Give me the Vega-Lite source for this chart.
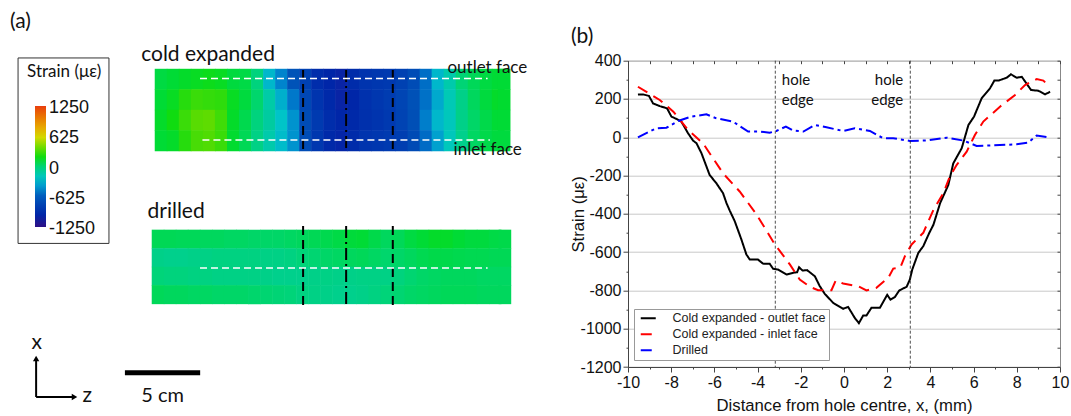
{
"$schema":"https://vega.github.io/schema/vega-lite/v6.json",
"padding":0,"background":"white","bounds":"flush","spacing":68,
"config":{"view":{"stroke":null},"font":"Liberation Sans"},
"datasets":{
"cold":[
{"z":-12.3,"y":8.57,"s":120},{"z":-12.3,"y":7.17,"s":150},{"z":-12.3,"y":5.76,"s":170},{"z":-12.3,"y":4.36,"s":150},
{"z":-11.5,"y":8.57,"s":150},{"z":-11.5,"y":7.17,"s":180},{"z":-11.5,"y":5.76,"s":200},{"z":-11.5,"y":4.36,"s":170},
{"z":-10.7,"y":8.57,"s":170},{"z":-10.7,"y":7.17,"s":220},{"z":-10.7,"y":5.76,"s":250},{"z":-10.7,"y":4.36,"s":220},
{"z":-9.9,"y":8.57,"s":180},{"z":-9.9,"y":7.17,"s":250},{"z":-9.9,"y":5.76,"s":320},{"z":-9.9,"y":4.36,"s":280},
{"z":-9.1,"y":8.57,"s":190},{"z":-9.1,"y":7.17,"s":240},{"z":-9.1,"y":5.76,"s":340},{"z":-9.1,"y":4.36,"s":300},
{"z":-8.3,"y":8.57,"s":180},{"z":-8.3,"y":7.17,"s":230},{"z":-8.3,"y":5.76,"s":260},{"z":-8.3,"y":4.36,"s":250},
{"z":-7.5,"y":8.57,"s":130},{"z":-7.5,"y":7.17,"s":180},{"z":-7.5,"y":5.76,"s":170},{"z":-7.5,"y":4.36,"s":160},
{"z":-6.7,"y":8.57,"s":110},{"z":-6.7,"y":7.17,"s":130},{"z":-6.7,"y":5.76,"s":90},{"z":-6.7,"y":4.36,"s":70},
{"z":-5.9,"y":8.57,"s":-20},{"z":-5.9,"y":7.17,"s":20},{"z":-5.9,"y":5.76,"s":-20},{"z":-5.9,"y":4.36,"s":-40},
{"z":-5.1,"y":8.57,"s":-300},{"z":-5.1,"y":7.17,"s":-140},{"z":-5.1,"y":5.76,"s":-120},{"z":-5.1,"y":4.36,"s":-150},
{"z":-4.3,"y":8.57,"s":-480},{"z":-4.3,"y":7.17,"s":-330},{"z":-4.3,"y":5.76,"s":-250},{"z":-4.3,"y":4.36,"s":-280},
{"z":-3.5,"y":8.57,"s":-640},{"z":-3.5,"y":7.17,"s":-520},{"z":-3.5,"y":5.76,"s":-430},{"z":-3.5,"y":4.36,"s":-430},
{"z":-2.7,"y":8.57,"s":-800},{"z":-2.7,"y":7.17,"s":-750},{"z":-2.7,"y":5.76,"s":-700},{"z":-2.7,"y":4.36,"s":-700},
{"z":-1.9,"y":8.57,"s":-950},{"z":-1.9,"y":7.17,"s":-900},{"z":-1.9,"y":5.76,"s":-850},{"z":-1.9,"y":4.36,"s":-880},
{"z":-1.1,"y":8.57,"s":-1000},{"z":-1.1,"y":7.17,"s":-980},{"z":-1.1,"y":5.76,"s":-950},{"z":-1.1,"y":4.36,"s":-980},
{"z":-0.3,"y":8.57,"s":-1020},{"z":-0.3,"y":7.17,"s":-1020},{"z":-0.3,"y":5.76,"s":-1000},{"z":-0.3,"y":4.36,"s":-1010},
{"z":0.5,"y":8.57,"s":-960},{"z":0.5,"y":7.17,"s":-1000},{"z":0.5,"y":5.76,"s":-980},{"z":0.5,"y":4.36,"s":-960},
{"z":1.3,"y":8.57,"s":-900},{"z":1.3,"y":7.17,"s":-920},{"z":1.3,"y":5.76,"s":-930},{"z":1.3,"y":4.36,"s":-900},
{"z":2.1,"y":8.57,"s":-880},{"z":2.1,"y":7.17,"s":-880},{"z":2.1,"y":5.76,"s":-900},{"z":2.1,"y":4.36,"s":-880},
{"z":2.9,"y":8.57,"s":-860},{"z":2.9,"y":7.17,"s":-840},{"z":2.9,"y":5.76,"s":-860},{"z":2.9,"y":4.36,"s":-850},
{"z":3.7,"y":8.57,"s":-800},{"z":3.7,"y":7.17,"s":-760},{"z":3.7,"y":5.76,"s":-780},{"z":3.7,"y":4.36,"s":-820},
{"z":4.5,"y":8.57,"s":-700},{"z":4.5,"y":7.17,"s":-660},{"z":4.5,"y":5.76,"s":-680},{"z":4.5,"y":4.36,"s":-720},
{"z":5.3,"y":8.57,"s":-550},{"z":5.3,"y":7.17,"s":-540},{"z":5.3,"y":5.76,"s":-500},{"z":5.3,"y":4.36,"s":-560},
{"z":6.1,"y":8.57,"s":-300},{"z":6.1,"y":7.17,"s":-350},{"z":6.1,"y":5.76,"s":-300},{"z":6.1,"y":4.36,"s":-380},
{"z":6.9,"y":8.57,"s":-150},{"z":6.9,"y":7.17,"s":-180},{"z":6.9,"y":5.76,"s":-200},{"z":6.9,"y":4.36,"s":-200},
{"z":7.7,"y":8.57,"s":0},{"z":7.7,"y":7.17,"s":-50},{"z":7.7,"y":5.76,"s":-50},{"z":7.7,"y":4.36,"s":-60},
{"z":8.5,"y":8.57,"s":60},{"z":8.5,"y":7.17,"s":50},{"z":8.5,"y":5.76,"s":30},{"z":8.5,"y":4.36,"s":40},
{"z":9.3,"y":8.57,"s":120},{"z":9.3,"y":7.17,"s":130},{"z":9.3,"y":5.76,"s":100},{"z":9.3,"y":4.36,"s":100},
{"z":10.1,"y":8.57,"s":150},{"z":10.1,"y":7.17,"s":170},{"z":10.1,"y":5.76,"s":150},{"z":10.1,"y":4.36,"s":130},
{"z":10.5,"y":8.57,"s":150},{"z":10.5,"y":7.17,"s":160},{"z":10.5,"y":5.76,"s":150},{"z":10.5,"y":4.36,"s":130}
],
"drilled":[
{"z":-12.5,"y":-2.38,"s":70},{"z":-12.5,"y":-3.65,"s":-50},{"z":-12.5,"y":-4.92,"s":-10},{"z":-12.5,"y":-6.18,"s":60},
{"z":-11.7,"y":-2.38,"s":70},{"z":-11.7,"y":-3.65,"s":-60},{"z":-11.7,"y":-4.92,"s":-20},{"z":-11.7,"y":-6.18,"s":50},
{"z":-10.9,"y":-2.38,"s":60},{"z":-10.9,"y":-3.65,"s":-60},{"z":-10.9,"y":-4.92,"s":-20},{"z":-10.9,"y":-6.18,"s":50},
{"z":-10.1,"y":-2.38,"s":60},{"z":-10.1,"y":-3.65,"s":-50},{"z":-10.1,"y":-4.92,"s":-30},{"z":-10.1,"y":-6.18,"s":40},
{"z":-9.3,"y":-2.38,"s":50},{"z":-9.3,"y":-3.65,"s":-40},{"z":-9.3,"y":-4.92,"s":-30},{"z":-9.3,"y":-6.18,"s":40},
{"z":-8.5,"y":-2.38,"s":50},{"z":-8.5,"y":-3.65,"s":-30},{"z":-8.5,"y":-4.92,"s":-40},{"z":-8.5,"y":-6.18,"s":30},
{"z":-7.7,"y":-2.38,"s":40},{"z":-7.7,"y":-3.65,"s":-30},{"z":-7.7,"y":-4.92,"s":-40},{"z":-7.7,"y":-6.18,"s":30},
{"z":-6.9,"y":-2.38,"s":40},{"z":-6.9,"y":-3.65,"s":-30},{"z":-6.9,"y":-4.92,"s":-40},{"z":-6.9,"y":-6.18,"s":30},
{"z":-6.1,"y":-2.38,"s":30},{"z":-6.1,"y":-3.65,"s":-30},{"z":-6.1,"y":-4.92,"s":-40},{"z":-6.1,"y":-6.18,"s":20},
{"z":-5.3,"y":-2.38,"s":30},{"z":-5.3,"y":-3.65,"s":-40},{"z":-5.3,"y":-4.92,"s":-50},{"z":-5.3,"y":-6.18,"s":10},
{"z":-4.5,"y":-2.38,"s":30},{"z":-4.5,"y":-3.65,"s":-40},{"z":-4.5,"y":-4.92,"s":-60},{"z":-4.5,"y":-6.18,"s":0},
{"z":-3.7,"y":-2.38,"s":40},{"z":-3.7,"y":-3.65,"s":-30},{"z":-3.7,"y":-4.92,"s":-60},{"z":-3.7,"y":-6.18,"s":-10},
{"z":-2.9,"y":-2.38,"s":50},{"z":-2.9,"y":-3.65,"s":-10},{"z":-2.9,"y":-4.92,"s":-60},{"z":-2.9,"y":-6.18,"s":-30},
{"z":-2.1,"y":-2.38,"s":70},{"z":-2.1,"y":-3.65,"s":10},{"z":-2.1,"y":-4.92,"s":-50},{"z":-2.1,"y":-6.18,"s":-40},
{"z":-1.3,"y":-2.38,"s":90},{"z":-1.3,"y":-3.65,"s":30},{"z":-1.3,"y":-4.92,"s":-40},{"z":-1.3,"y":-6.18,"s":-50},
{"z":-0.5,"y":-2.38,"s":110},{"z":-0.5,"y":-3.65,"s":40},{"z":-0.5,"y":-4.92,"s":-50},{"z":-0.5,"y":-6.18,"s":-60},
{"z":0.3,"y":-2.38,"s":140},{"z":0.3,"y":-3.65,"s":50},{"z":0.3,"y":-4.92,"s":-50},{"z":0.3,"y":-6.18,"s":-60},
{"z":1.1,"y":-2.38,"s":150},{"z":1.1,"y":-3.65,"s":60},{"z":1.1,"y":-4.92,"s":-40},{"z":1.1,"y":-6.18,"s":-50},
{"z":1.9,"y":-2.38,"s":100},{"z":1.9,"y":-3.65,"s":40},{"z":1.9,"y":-4.92,"s":-40},{"z":1.9,"y":-6.18,"s":-30},
{"z":2.7,"y":-2.38,"s":50},{"z":2.7,"y":-3.65,"s":20},{"z":2.7,"y":-4.92,"s":-40},{"z":2.7,"y":-6.18,"s":-10},
{"z":3.5,"y":-2.38,"s":60},{"z":3.5,"y":-3.65,"s":30},{"z":3.5,"y":-4.92,"s":-20},{"z":3.5,"y":-6.18,"s":10},
{"z":4.3,"y":-2.38,"s":120},{"z":4.3,"y":-3.65,"s":50},{"z":4.3,"y":-4.92,"s":10},{"z":4.3,"y":-6.18,"s":30},
{"z":5.1,"y":-2.38,"s":150},{"z":5.1,"y":-3.65,"s":80},{"z":5.1,"y":-4.92,"s":30},{"z":5.1,"y":-6.18,"s":40},
{"z":5.9,"y":-2.38,"s":170},{"z":5.9,"y":-3.65,"s":100},{"z":5.9,"y":-4.92,"s":40},{"z":5.9,"y":-6.18,"s":50},
{"z":6.7,"y":-2.38,"s":170},{"z":6.7,"y":-3.65,"s":100},{"z":6.7,"y":-4.92,"s":50},{"z":6.7,"y":-6.18,"s":60},
{"z":7.5,"y":-2.38,"s":150},{"z":7.5,"y":-3.65,"s":90},{"z":7.5,"y":-4.92,"s":50},{"z":7.5,"y":-6.18,"s":60},
{"z":8.3,"y":-2.38,"s":130},{"z":8.3,"y":-3.65,"s":80},{"z":8.3,"y":-4.92,"s":50},{"z":8.3,"y":-6.18,"s":60},
{"z":9.1,"y":-2.38,"s":130},{"z":9.1,"y":-3.65,"s":80},{"z":9.1,"y":-4.92,"s":40},{"z":9.1,"y":-6.18,"s":50},
{"z":9.9,"y":-2.38,"s":110},{"z":9.9,"y":-3.65,"s":70},{"z":9.9,"y":-4.92,"s":40},{"z":9.9,"y":-6.18,"s":50},
{"z":10.55,"y":-2.38,"s":100},{"z":10.55,"y":-3.65,"s":70},{"z":10.55,"y":-4.92,"s":40},{"z":10.55,"y":-6.18,"s":50}
],
"lines":[
{"d":-9.54,"v":223,"k":"Cold expanded - outlet face"},{"d":-9.3,"v":224,"k":"Cold expanded - outlet face"},{"d":-9.03,"v":216,"k":"Cold expanded - outlet face"},{"d":-8.84,"v":177,"k":"Cold expanded - outlet face"},{"d":-8.53,"v":163,"k":"Cold expanded - outlet face"},{"d":-8.19,"v":151,"k":"Cold expanded - outlet face"},{"d":-7.99,"v":108,"k":"Cold expanded - outlet face"},{"d":-7.76,"v":96,"k":"Cold expanded - outlet face"},{"d":-7.53,"v":82,"k":"Cold expanded - outlet face"},{"d":-7.22,"v":21,"k":"Cold expanded - outlet face"},{"d":-6.99,"v":-17,"k":"Cold expanded - outlet face"},{"d":-6.83,"v":-31,"k":"Cold expanded - outlet face"},{"d":-6.6,"v":-83,"k":"Cold expanded - outlet face"},{"d":-6.22,"v":-197,"k":"Cold expanded - outlet face"},{"d":-5.91,"v":-240,"k":"Cold expanded - outlet face"},{"d":-5.6,"v":-292,"k":"Cold expanded - outlet face"},{"d":-5.44,"v":-344,"k":"Cold expanded - outlet face"},{"d":-5.29,"v":-383,"k":"Cold expanded - outlet face"},{"d":-5.06,"v":-438,"k":"Cold expanded - outlet face"},{"d":-4.75,"v":-534,"k":"Cold expanded - outlet face"},{"d":-4.52,"v":-612,"k":"Cold expanded - outlet face"},{"d":-4.36,"v":-639,"k":"Cold expanded - outlet face"},{"d":-3.98,"v":-639,"k":"Cold expanded - outlet face"},{"d":-3.75,"v":-660,"k":"Cold expanded - outlet face"},{"d":-3.44,"v":-661,"k":"Cold expanded - outlet face"},{"d":-3.28,"v":-687,"k":"Cold expanded - outlet face"},{"d":-3.05,"v":-691,"k":"Cold expanded - outlet face"},{"d":-2.66,"v":-717,"k":"Cold expanded - outlet face"},{"d":-2.35,"v":-708,"k":"Cold expanded - outlet face"},{"d":-2.17,"v":-705,"k":"Cold expanded - outlet face"},{"d":-2.08,"v":-679,"k":"Cold expanded - outlet face"},{"d":-1.92,"v":-696,"k":"Cold expanded - outlet face"},{"d":-1.71,"v":-694,"k":"Cold expanded - outlet face"},{"d":-1.35,"v":-726,"k":"Cold expanded - outlet face"},{"d":-1.12,"v":-778,"k":"Cold expanded - outlet face"},{"d":-0.89,"v":-818,"k":"Cold expanded - outlet face"},{"d":-0.5,"v":-865,"k":"Cold expanded - outlet face"},{"d":-0.04,"v":-896,"k":"Cold expanded - outlet face"},{"d":0.19,"v":-886,"k":"Cold expanded - outlet face"},{"d":0.5,"v":-944,"k":"Cold expanded - outlet face"},{"d":0.69,"v":-971,"k":"Cold expanded - outlet face"},{"d":0.89,"v":-931,"k":"Cold expanded - outlet face"},{"d":1.04,"v":-931,"k":"Cold expanded - outlet face"},{"d":1.27,"v":-891,"k":"Cold expanded - outlet face"},{"d":1.66,"v":-891,"k":"Cold expanded - outlet face"},{"d":2.0,"v":-823,"k":"Cold expanded - outlet face"},{"d":2.15,"v":-848,"k":"Cold expanded - outlet face"},{"d":2.36,"v":-834,"k":"Cold expanded - outlet face"},{"d":2.56,"v":-800,"k":"Cold expanded - outlet face"},{"d":2.9,"v":-781,"k":"Cold expanded - outlet face"},{"d":3.05,"v":-743,"k":"Cold expanded - outlet face"},{"d":3.16,"v":-691,"k":"Cold expanded - outlet face"},{"d":3.44,"v":-604,"k":"Cold expanded - outlet face"},{"d":3.67,"v":-569,"k":"Cold expanded - outlet face"},{"d":3.95,"v":-499,"k":"Cold expanded - outlet face"},{"d":4.14,"v":-457,"k":"Cold expanded - outlet face"},{"d":4.45,"v":-344,"k":"Cold expanded - outlet face"},{"d":4.83,"v":-249,"k":"Cold expanded - outlet face"},{"d":5.06,"v":-136,"k":"Cold expanded - outlet face"},{"d":5.45,"v":-57,"k":"Cold expanded - outlet face"},{"d":5.76,"v":64,"k":"Cold expanded - outlet face"},{"d":6.02,"v":108,"k":"Cold expanded - outlet face"},{"d":6.37,"v":203,"k":"Cold expanded - outlet face"},{"d":6.76,"v":256,"k":"Cold expanded - outlet face"},{"d":6.96,"v":296,"k":"Cold expanded - outlet face"},{"d":7.15,"v":296,"k":"Cold expanded - outlet face"},{"d":7.53,"v":311,"k":"Cold expanded - outlet face"},{"d":7.73,"v":329,"k":"Cold expanded - outlet face"},{"d":8.0,"v":311,"k":"Cold expanded - outlet face"},{"d":8.23,"v":316,"k":"Cold expanded - outlet face"},{"d":8.66,"v":247,"k":"Cold expanded - outlet face"},{"d":9.0,"v":243,"k":"Cold expanded - outlet face"},{"d":9.31,"v":224,"k":"Cold expanded - outlet face"},{"d":9.54,"v":238,"k":"Cold expanded - outlet face"},
{"d":-9.54,"v":264,"k":"Cold expanded - inlet face"},{"d":-8.53,"v":195,"k":"Cold expanded - inlet face"},{"d":-7.9,"v":134,"k":"Cold expanded - inlet face"},{"d":-7.22,"v":38,"k":"Cold expanded - inlet face"},{"d":-6.53,"v":-31,"k":"Cold expanded - inlet face"},{"d":-5.6,"v":-188,"k":"Cold expanded - inlet face"},{"d":-4.83,"v":-283,"k":"Cold expanded - inlet face"},{"d":-4.05,"v":-403,"k":"Cold expanded - inlet face"},{"d":-3.2,"v":-560,"k":"Cold expanded - inlet face"},{"d":-2.5,"v":-665,"k":"Cold expanded - inlet face"},{"d":-2.05,"v":-743,"k":"Cold expanded - inlet face"},{"d":-1.58,"v":-781,"k":"Cold expanded - inlet face"},{"d":-1.2,"v":-799,"k":"Cold expanded - inlet face"},{"d":-0.58,"v":-799,"k":"Cold expanded - inlet face"},{"d":-0.38,"v":-748,"k":"Cold expanded - inlet face"},{"d":-0.04,"v":-764,"k":"Cold expanded - inlet face"},{"d":0.66,"v":-778,"k":"Cold expanded - inlet face"},{"d":1.04,"v":-800,"k":"Cold expanded - inlet face"},{"d":1.5,"v":-786,"k":"Cold expanded - inlet face"},{"d":2.05,"v":-734,"k":"Cold expanded - inlet face"},{"d":2.28,"v":-686,"k":"Cold expanded - inlet face"},{"d":2.6,"v":-682,"k":"Cold expanded - inlet face"},{"d":2.82,"v":-621,"k":"Cold expanded - inlet face"},{"d":3.13,"v":-560,"k":"Cold expanded - inlet face"},{"d":3.67,"v":-499,"k":"Cold expanded - inlet face"},{"d":4.14,"v":-379,"k":"Cold expanded - inlet face"},{"d":4.6,"v":-292,"k":"Cold expanded - inlet face"},{"d":4.9,"v":-205,"k":"Cold expanded - inlet face"},{"d":5.22,"v":-144,"k":"Cold expanded - inlet face"},{"d":5.68,"v":-75,"k":"Cold expanded - inlet face"},{"d":6.06,"v":12,"k":"Cold expanded - inlet face"},{"d":6.45,"v":82,"k":"Cold expanded - inlet face"},{"d":7.22,"v":160,"k":"Cold expanded - inlet face"},{"d":7.92,"v":221,"k":"Cold expanded - inlet face"},{"d":8.38,"v":273,"k":"Cold expanded - inlet face"},{"d":8.92,"v":304,"k":"Cold expanded - inlet face"},{"d":9.23,"v":296,"k":"Cold expanded - inlet face"},{"d":9.54,"v":261,"k":"Cold expanded - inlet face"},
{"d":-9.54,"v":0,"k":"Drilled"},{"d":-8.69,"v":47,"k":"Drilled"},{"d":-8.22,"v":50,"k":"Drilled"},{"d":-7.68,"v":85,"k":"Drilled"},{"d":-7.07,"v":108,"k":"Drilled"},{"d":-6.37,"v":120,"k":"Drilled"},{"d":-5.91,"v":99,"k":"Drilled"},{"d":-5.14,"v":82,"k":"Drilled"},{"d":-4.44,"v":30,"k":"Drilled"},{"d":-3.9,"v":30,"k":"Drilled"},{"d":-3.44,"v":24,"k":"Drilled"},{"d":-3.13,"v":33,"k":"Drilled"},{"d":-2.69,"v":56,"k":"Drilled"},{"d":-2.35,"v":35,"k":"Drilled"},{"d":-1.88,"v":30,"k":"Drilled"},{"d":-1.35,"v":64,"k":"Drilled"},{"d":-0.81,"v":52,"k":"Drilled"},{"d":-0.04,"v":33,"k":"Drilled"},{"d":0.5,"v":47,"k":"Drilled"},{"d":1.2,"v":33,"k":"Drilled"},{"d":1.81,"v":-5,"k":"Drilled"},{"d":2.28,"v":-5,"k":"Drilled"},{"d":3.05,"v":-19,"k":"Drilled"},{"d":3.82,"v":-17,"k":"Drilled"},{"d":4.75,"v":-2,"k":"Drilled"},{"d":5.52,"v":-17,"k":"Drilled"},{"d":6.14,"v":-45,"k":"Drilled"},{"d":6.91,"v":-42,"k":"Drilled"},{"d":7.99,"v":-37,"k":"Drilled"},{"d":8.53,"v":-28,"k":"Drilled"},{"d":8.92,"v":9,"k":"Drilled"},{"d":9.46,"v":0,"k":"Drilled"}
]
},
"hconcat":[
{
"width":560,"height":416,
"encoding":{
"x":{"field":"z","type":"quantitative","axis":null,"scale":{"domain":[-23,14.21],"nice":false,"zero":false}},
"y":{"field":"y","type":"quantitative","axis":null,"scale":{"domain":[-14.49,14],"nice":false,"zero":false}}
},
"layer":[
{"data":{"values":[{"z":-21.8,"z2":-15.76,"y":10.03,"y2":-2.67}]},"mark":{"type":"rect","fill":"white","stroke":"#333333","strokeWidth":1},"encoding":{"x2":{"field":"z2"},"y2":{"field":"y2"}}},
{"data":{"name":"cold"},"mark":{"type":"rect","width":12.6,"height":21},"encoding":{"color":{"field":"s","type":"quantitative","scale":{"domain":[-1250,-1000,-625,-250,-100,60,200,400,625,900,1250],"range":["#2a0f85","#0026a8","#0055b8","#00c4c8","#00cc98","#00d858","#10dc10","#70dc00","#dcd800","#e89000","#e83c10"]},"legend":{"type":"gradient","orient":"none","legendX":35,"legendY":106,"direction":"vertical","title":null,"gradientLength":121,"gradientThickness":11,"values":[-1250,-625,0,625,1250],"labelExpr":"''+datum.value","labelFont":"Liberation Sans","labelFontSize":18,"labelColor":"#111111","labelOverlap":false,"labelOffset":3,"padding":0,"encode":{"labels":{"update":{"baseline":{"value":"middle"},"dy":{"value":2}}}}}}}},
{"data":{"name":"drilled"},"mark":{"type":"rect","width":12.6,"height":19},"encoding":{"color":{"field":"s","type":"quantitative"}}},
{"data":{"values":[{"z":-2.86,"y":9.21,"y2":3.52},{"z":3.1,"y":9.21,"y2":3.52},{"z":-2.86,"y":-1.48,"y2":-7.23},{"z":3.1,"y":-1.48,"y2":-7.23}]},"mark":{"type":"rule","color":"black","strokeWidth":2,"strokeDash":[9,5]},"encoding":{"y2":{"field":"y2"}}},
{"data":{"values":[{"z":0,"y":9.21,"y2":3.8},{"z":0,"y":-1.48,"y2":-7.0}]},"mark":{"type":"rule","color":"black","strokeWidth":2,"strokeDash":[12,4,2,4]},"encoding":{"y2":{"field":"y2"}}},
{"data":{"values":[{"z":-9.71,"z2":9.4,"y":8.62},{"z":-9.55,"z2":9.55,"y":4.41},{"z":-9.71,"z2":9.4,"y":-4.36}]},"mark":{"type":"rule","color":"white","strokeWidth":1.5,"strokeDash":[7,4]},"encoding":{"x2":{"field":"z2"}}},
{"data":{"values":[{"z":-14.7,"z2":-9.7,"y":-11.53}]},"mark":{"type":"rule","color":"black","strokeWidth":5},"encoding":{"x2":{"field":"z2"}}},
{"data":{"values":[{"z":-20.6,"z2":-20.6,"y":-10.6,"y2":-13.19},{"z":-20.6,"z2":-18.1,"y":-13.19,"y2":-13.19}]},"mark":{"type":"rule","color":"black","strokeWidth":2},"encoding":{"x2":{"field":"z2"},"y2":{"field":"y2"}}},
{"data":{"values":[{"z":-20.6,"y":-10.55}]},"mark":{"type":"point","shape":"triangle-up","filled":true,"color":"black","size":40,"opacity":1}},
{"data":{"values":[{"z":-18.05,"y":-13.19}]},"mark":{"type":"point","shape":"triangle-right","filled":true,"color":"black","size":40,"opacity":1}},
{"data":{"values":[{"z":-22.33,"y":12.49,"t":"(a)"},{"z":-13.62,"y":10.23,"t":"cold expanded"},{"z":-13.2,"y":-0.52,"t":"drilled"},{"z":-20.9,"y":-9.49,"t":"x"},{"z":-17.52,"y":-13.12,"t":"z"}]},"mark":{"type":"text","font":"Lato","fontSize":21,"align":"left","baseline":"middle","color":"#111111"},"encoding":{"text":{"field":"t"}}},
{"data":{"values":[{"z":6.73,"y":9.34,"t":"outlet face"},{"z":7.14,"y":3.73,"t":"inlet face"},{"z":-21.2,"y":9.07,"t":"Strain (με)"}]},"mark":{"type":"text","font":"Lato","fontSize":17,"align":"left","baseline":"middle","color":"#111111"},"encoding":{"text":{"field":"t"}}},
{"data":{"values":[{"z":-13.62,"y":-13.12,"t":"5 cm"}]},"mark":{"type":"text","font":"Lato","fontSize":20,"align":"left","baseline":"middle","color":"#111111"},"encoding":{"text":{"field":"t"}}}
]
},
{
"bounds":"flush","spacing":10.7,
"vconcat":[
{
"width":432,"height":50,
"data":{"values":[{"a":-0.132,"b":0.26,"t":"(b)"}]},
"mark":{"type":"text","font":"Lato","fontSize":21,"align":"left","baseline":"middle","color":"#111111","clip":false},
"encoding":{
"x":{"field":"a","type":"quantitative","axis":null,"scale":{"domain":[0,1],"nice":false,"zero":false}},
"y":{"field":"b","type":"quantitative","axis":null,"scale":{"domain":[0,1],"nice":false,"zero":false}},
"text":{"field":"t"}
}
},
{
"width":432,"height":306.3,
"view":{"stroke":"#888888","strokeWidth":1},
"resolve":{"axis":{"x":"independent","y":"independent"}},
"layer":[
{
"data":{"name":"lines"},
"mark":{"type":"line","strokeWidth":2,"clip":true},
"encoding":{
"x":{"field":"d","type":"quantitative","scale":{"domain":[-10,10],"nice":false,"zero":false},
"axis":{"orient":"bottom","values":[-10,-8,-6,-4,-2,0,2,4,6,8,10],"labelExpr":"''+datum.value","title":"Distance from hole centre, x, (mm)","titleFont":"Liberation Sans","titleFontSize":16.7,"titleFontWeight":"normal","titleColor":"#111111","titlePadding":7,"labelFont":"Liberation Sans","labelFontSize":16,"labelColor":"#111111","labelPadding":2,"labelOverlap":false,"labelFlush":false,"tickColor":"#444444","tickSize":5,"domainColor":"#444444","grid":false}},
"y":{"field":"v","type":"quantitative","scale":{"domain":[-1200,400],"nice":false,"zero":false},
"axis":{"orient":"left","values":[-1200,-1000,-800,-600,-400,-200,0,200,400],"labelExpr":"''+datum.value","title":"Strain  (με)","titleFont":"Liberation Sans","titleFontSize":16.7,"titleFontWeight":"normal","titleColor":"#111111","titlePadding":-7,"labelFont":"Liberation Sans","labelFontSize":16,"labelColor":"#111111","labelPadding":2,"labelOverlap":false,"tickColor":"#444444","tickSize":5,"domainColor":"#444444","grid":true,"gridColor":"#c8c8c8","gridWidth":1,"zindex":0}},
"color":{"field":"k","type":"nominal","scale":{"domain":["Cold expanded - outlet face","Cold expanded - inlet face","Drilled"],"range":["#000000","#ff0000","#0000ff"]},
"legend":{"orient":"none","legendX":6,"legendY":309,"title":null,"fillColor":"white","strokeColor":"#999999","padding":3,"rowPadding":3,"symbolType":"M-0.5,0H2.5","symbolSize":100,"symbolStrokeWidth":2,"labelFont":"Liberation Sans","labelFontSize":12.5,"labelColor":"#222222","labelOffset":23,"labelLimit":200,"encode":{"symbols":{"update":{"strokeDash":[{"test":"datum.value==='Cold expanded - inlet face'","value":[11,7]},{"test":"datum.value==='Drilled'","value":[11,4,3,4]},{"value":[1,0]}]}}}}},
"strokeDash":{"field":"k","type":"nominal","legend":null,"scale":{"domain":["Cold expanded - outlet face","Cold expanded - inlet face","Drilled"],"range":[[1,0],[11,7],[11,4,3,4]]}}
}
},
{
"data":{"values":[{"d":-3.18,"v":400,"v2":-1200},{"d":3.07,"v":400,"v2":-1200}]},
"mark":{"type":"rule","color":"#222222","strokeWidth":0.8,"strokeDash":[3,2]},
"encoding":{
"x":{"field":"d","type":"quantitative","axis":{"orient":"bottom","values":[-9,-7,-5,-3,-1,1,3,5,7,9],"labels":false,"domain":false,"grid":false,"title":null,"tickSize":2,"tickColor":"#444444"}},
"y":{"field":"v","type":"quantitative","axis":{"orient":"left","values":[-1100,-900,-700,-500,-300,-100,100,300],"labels":false,"domain":false,"grid":false,"title":null,"tickSize":2,"tickColor":"#444444"}},
"y2":{"field":"v2"}
}
},
{
"data":{"values":[{"d":-10,"v":400}]},
"mark":{"type":"point","opacity":0},
"encoding":{
"x":{"field":"d","type":"quantitative","axis":{"orient":"top","values":[-10,-9,-8,-7,-6,-5,-4,-3,-2,-1,0,1,2,3,4,5,6,7,8,9,10],"labels":false,"domain":false,"grid":false,"title":null,"tickSize":-3,"tickColor":"#444444"}},
"y":{"field":"v","type":"quantitative","axis":{"orient":"right","values":[-1200,-1100,-1000,-900,-800,-700,-600,-500,-400,-300,-200,-100,0,100,200,300,400],"labels":false,"domain":false,"grid":false,"title":null,"tickSize":-3,"tickColor":"#444444"}}
}
},
{
"data":{"values":[{"d":-2.88,"v":299,"t":"hole"},{"d":-2.88,"v":195,"t":"edge"}]},
"mark":{"type":"text","font":"Lato","fontSize":15,"align":"left","baseline":"middle","color":"#111111"},
"encoding":{"x":{"field":"d","type":"quantitative","axis":null},"y":{"field":"v","type":"quantitative","axis":null},"text":{"field":"t"}}
},
{
"data":{"values":[{"d":2.74,"v":299,"t":"hole"},{"d":2.74,"v":195,"t":"edge"}]},
"mark":{"type":"text","font":"Lato","fontSize":15,"align":"right","baseline":"middle","color":"#111111"},
"encoding":{"x":{"field":"d","type":"quantitative","axis":null},"y":{"field":"v","type":"quantitative","axis":null},"text":{"field":"t"}}
}
]
}
]
}
]
}
